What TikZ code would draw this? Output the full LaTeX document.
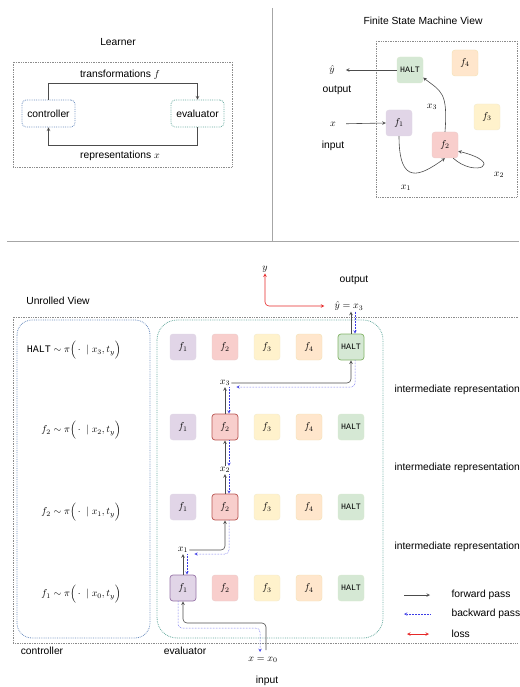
\documentclass[tikz,border=0pt]{standalone}
\usepackage{amsmath}
\usepackage{fontspec}
\setmainfont{Liberation Sans}
\setmonofont{Liberation Mono}
\usepackage{tikz}
\usetikzlibrary{arrows,positioning}
\usepackage{xcolor}
\definecolor{fpurple}{RGB}{225,213,231}
\definecolor{fpurpleline}{RGB}{150,115,166}
\definecolor{fred}{RGB}{248,206,204}
\definecolor{fredline}{RGB}{184,84,80}
\definecolor{fyellow}{RGB}{255,242,204}
\definecolor{fyellowline}{RGB}{214,182,86}
\definecolor{forange}{RGB}{255,230,204}
\definecolor{forangeline}{RGB}{215,155,0}
\definecolor{fgreen}{RGB}{213,232,212}
\definecolor{fgreenline}{RGB}{130,179,102}
\definecolor{ctlblue}{RGB}{108,142,191}
\definecolor{evlteal}{RGB}{103,171,159}
\definecolor{bwdblue}{RGB}{60,60,230}
\definecolor{lossred}{RGB}{230,40,40}
\tikzstyle{fbox} = [rectangle, rounded corners=3pt, minimum width=26pt, minimum height=26pt, inner sep=0pt, font=\fontsize{10}{12}\selectfont]
\tikzstyle{fone} = [fbox, fill=fpurple, draw=fpurpleline!30]
\tikzstyle{ftwo} = [fbox, fill=fred, draw=fredline!30]
\tikzstyle{fthree} = [fbox, fill=fyellow, draw=fyellowline!30]
\tikzstyle{ffour} = [fbox, fill=forange, draw=forangeline!30]
\tikzstyle{fhalt} = [fbox, fill=fgreen, draw=fgreenline!30, font=\fontsize{8.3}{9}\ttfamily]
\tikzstyle{fwd} = [->, >=stealth, line width=0.6pt, color=black!70]
\tikzstyle{bwd} = [->, >=stealth, line width=0.5pt, densely dotted, color=bwdblue]
\tikzstyle{loss} = [<->, >=stealth, line width=0.6pt, color=lossred]
\tikzstyle{frame} = [densely dotted, line width=0.7pt, color=black!45]
\tikzstyle{sep} = [line width=1pt, color=black!35]
\tikzstyle{label} = [font=\fontsize{10.3}{12}\selectfont]
\tikzstyle{mlabel} = [inner sep=1pt, font=\fontsize{10}{12}\selectfont]

\begin{document}
\begin{tikzpicture}[x=1pt, y=-1pt, node distance=42pt]
\useasboundingbox (0,0) rectangle (519,687);
\draw[sep] (272,8) -- (272,241);
\draw[sep] (7,241) -- (519,241);

% learner
\node (learner) [label] at (118,42) {Learner};
\draw[frame] (13,62) rectangle (232,167);
\node (ctl) [label, rectangle, rounded corners=4pt, minimum width=53pt, minimum height=27pt, draw=ctlblue, densely dotted, line width=0.8pt] at (48.5,113.5) {controller};
\node (evl) [label, rectangle, rounded corners=4pt, minimum width=53pt, minimum height=27pt, draw=evlteal, densely dotted, line width=0.8pt] at (197.5,113.5) {evaluator};
\draw[fwd] (ctl.north) -- ++(0,-16) -| (evl.north);
\draw[fwd] (evl.south) -- ++(0,18) -| (ctl.south);
\node (ltf) [label] at (120,75) {transformations $f$};
\node (lrx) [label] at (120,156) {representations $x$};

% finite state machine
\node (fsmtitle) [label] at (423,21) {Finite State Machine View};
\draw[frame] (376,41) rectangle (517,197);
\node (mh) [fhalt] at (410,70) {HALT};
\node (m4) [ffour] at (465,63) {$f_4$};
\node (m3) [fthree] at (487,117) {$f_3$};
\node (m1) [fone] at (399,123) {$f_1$};
\node (m2) [ftwo] at (445,145) {$f_2$};
\node (myhat) [mlabel] at (332,70) {$\hat{y}$};
\node (mout) [label] at (337,90) {output};
\node (mx) [mlabel] at (333,124) {$x$};
\node (min) [label] at (333,146) {input};
\draw[fwd, shorten >=10pt] (mh.west) -- (myhat);
\draw[fwd, shorten <=9pt] (mx) -- (m1.west);
\draw[fwd] (m1.south) .. controls +(0,50) and +(-25,18) .. (m2.south);
\draw[fwd] ([xshift=-5pt]m2.south east) .. controls +(22,20) and +(48,12) .. (m2.-25);
\draw[fwd] (m2.north) .. controls +(3,-40) and +(18,14) .. (mh.-30);
\node (mx1) [mlabel] at (406,188) {$x_1$};
\node (mx2) [mlabel] at (499,175) {$x_2$};
\node (mx3) [mlabel] at (432,107) {$x_3$};

% unrolled view
\node (unrolled) [label] at (58,301) {Unrolled View};
\draw[frame] (518,317) -- (13,317) -- (13,643) -- (518,643);
\draw[densely dotted, line width=0.8pt, draw=ctlblue, rounded corners=15pt] (17,320) rectangle (150,638);
\draw[densely dotted, line width=0.8pt, draw=evlteal, rounded corners=20pt] (157,320) rectangle (383,638);
\node (lctl) [label] at (42,651) {controller};
\node (levl) [label] at (185,651) {evaluator};

% rows of functions
\node (r1f1) [fone] at (183,347) {$f_1$};
\node (r1f2) [ftwo, right of=r1f1] {$f_2$};
\node (r1f3) [fthree, right of=r1f2] {$f_3$};
\node (r1f4) [ffour, right of=r1f3] {$f_4$};
\node (r1h) [fhalt, right of=r1f4, draw=fgreenline, line width=0.7pt] {HALT};

\node (r2f1) [fone] at (183,427) {$f_1$};
\node (r2f2) [ftwo, right of=r2f1, draw=fredline, line width=0.7pt] {$f_2$};
\node (r2f3) [fthree, right of=r2f2] {$f_3$};
\node (r2f4) [ffour, right of=r2f3] {$f_4$};
\node (r2h) [fhalt, right of=r2f4] {HALT};

\node (r3f1) [fone] at (183,507) {$f_1$};
\node (r3f2) [ftwo, right of=r3f1, draw=fredline, line width=0.7pt] {$f_2$};
\node (r3f3) [fthree, right of=r3f2] {$f_3$};
\node (r3f4) [ffour, right of=r3f3] {$f_4$};
\node (r3h) [fhalt, right of=r3f4] {HALT};

\node (r4f1) [fone, draw=fpurpleline, line width=0.7pt] at (183,588) {$f_1$};
\node (r4f2) [ftwo, right of=r4f1] {$f_2$};
\node (r4f3) [fthree, right of=r4f2] {$f_3$};
\node (r4f4) [ffour, right of=r4f3] {$f_4$};
\node (r4h) [fhalt, right of=r4f4] {HALT};

% controller policies
\node (p1) [mlabel, anchor=east] at (122,350) {$\texttt{HALT} \sim \pi\Big(\,\cdot\;\mid x_3, t_y\Big)$};
\node (p2) [mlabel, anchor=east] at (122,430) {$f_2 \sim \pi\Big(\,\cdot\;\mid x_2, t_y\Big)$};
\node (p3) [mlabel, anchor=east] at (122,512) {$f_2 \sim \pi\Big(\,\cdot\;\mid x_1, t_y\Big)$};
\node (p4) [mlabel, anchor=east] at (122,594) {$f_1 \sim \pi\Big(\,\cdot\;\mid x_0, t_y\Big)$};

% representations
\node (lx0) [mlabel] at (263,660) {$x = x_0$};
\node (lin) [label] at (267,681) {input};
\node (lx1) [mlabel] at (183,550) {$x_1$};
\node (lx2) [mlabel] at (225,470) {$x_2$};
\node (lx3) [mlabel] at (225,383) {$x_3$};
\node (lyhat) [mlabel] at (349,306) {$\hat{y} = x_3$};
\node (lout) [label] at (354,280) {output};
\node (ly) [mlabel] at (265,269) {$y$};
\node (ir1) [label, anchor=west] at (391,390) {intermediate representation};
\node (ir2) [label, anchor=west] at (391,468) {intermediate representation};
\node (ir3) [label, anchor=west] at (391,547) {intermediate representation};

% forward pass
\coordinate (x0top) at (266,650);
\draw[fwd, rounded corners=4pt] (x0top) -- (266,623) -| (r4f1.south);
\draw[fwd] (r4f1.north) -- (lx1.south);
\draw[fwd, rounded corners=4pt] (lx1.east) -| (r3f2.south);
\draw[fwd] (r3f2.north) -- (lx2.south);
\draw[fwd] (lx2.north) -- (r2f2.south);
\draw[fwd] (r2f2.north) -- (lx3.south);
\draw[fwd, rounded corners=4pt] (lx3.east) -| (r1h.south);
\draw[fwd] (r1h.north) -- (lyhat.south -| r1h.north);

% backward pass
\draw[bwd, rounded corners=4pt] ([xshift=-5pt]r4f1.south) |- (260,628) -- (260,652);
\draw[bwd] ([xshift=4pt]r4f1.north |- lx1.south) -- ([xshift=4pt]r4f1.north);
\draw[bwd, rounded corners=4pt] ([xshift=4pt]r3f2.south) |- ([xshift=5pt, yshift=-4pt]lx1.east);
\draw[bwd] ([xshift=4pt]r3f2.north |- lx2.south) -- ([xshift=4pt]r3f2.north);
\draw[bwd] ([xshift=4pt]r2f2.south) -- ([xshift=4pt]r2f2.south |- lx2.north);
\draw[bwd] ([xshift=4pt]r2f2.north |- lx3.south) -- ([xshift=4pt]r2f2.north);
\draw[bwd, rounded corners=4pt] ([xshift=4pt]r1h.south) |- ([xshift=5pt, yshift=-4pt]lx3.east);
\draw[bwd] ([xshift=4pt]r1h.north |- lyhat.south) -- ([xshift=4pt]r1h.north);

% loss
\draw[loss, rounded corners=4pt, shorten >=9pt] (ly.south) |- (lyhat.west);

% legend
\coordinate (lf1) at (404,595);
\coordinate (lf2) at (430,595);
\coordinate (lb1) at (404,614);
\coordinate (lb2) at (430,614);
\coordinate (ll1) at (407,634);
\coordinate (ll2) at (429,634);
\draw[fwd] (lf1) -- (lf2);
\draw[bwd] (lb2) -- (lb1);
\draw[loss] (ll1) -- (ll2);
\node (tfwd) [label, anchor=west] at (448,595) {forward pass};
\node (tbwd) [label, anchor=west] at (448,614) {backward pass};
\node (tloss) [label, anchor=west] at (448,634) {loss};
\end{tikzpicture}
\end{document}
